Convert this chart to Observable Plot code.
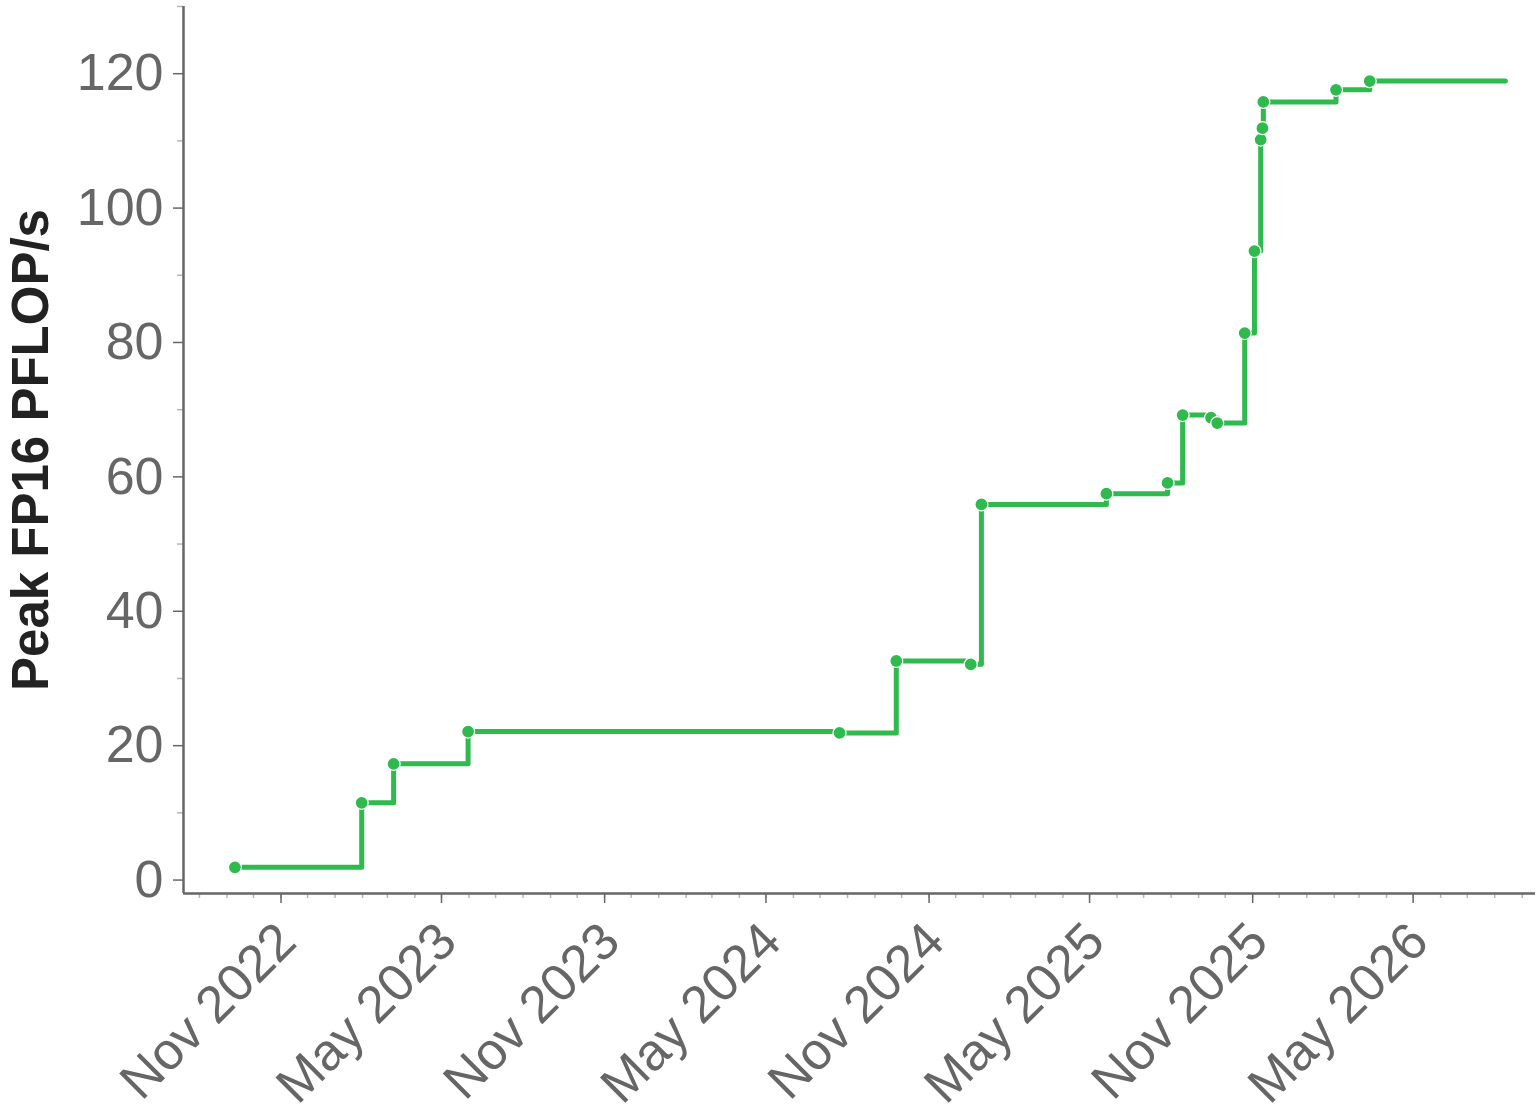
<!DOCTYPE html>
<html>
<head>
<meta charset="utf-8">
<script src="https://cdn.jsdelivr.net/npm/d3@7"></script>
<script src="https://cdn.jsdelivr.net/npm/@observablehq/plot@0.6"></script>
<style>
  html, body { margin: 0; padding: 0; background: #fff; }
  #chart { width: 1540px; height: 1120px; }
</style>
</head>
<body>
<div id="chart"></div>
<script>
// ---- data ----
const releaseDates = [
  "2022-09-10", "2023-01-31", "2023-03-08", "2023-05-31", "2024-07-23",
  "2024-09-25", "2024-12-18", "2024-12-30", "2025-05-20", "2025-07-28",
  "2025-08-14", "2025-09-15", "2025-09-22", "2025-10-23", "2025-11-03",
  "2025-11-10", "2025-11-12", "2025-11-13", "2026-02-03", "2026-03-13"
];
const peakPflops = [
  1.9, 11.5, 17.3, 22.1, 21.9,
  32.6, 32.1, 55.9, 57.5, 59.1,
  69.2, 68.8, 68.0, 81.4, 93.6,
  110.2, 111.9, 115.8, 117.6, 118.9
];
const lineEndDate = "2026-08-13";

const xDomain = ["2022-07-14", "2026-09-16"];
const yDomain = [-2, 130];
const xTickDates = ["2022-11-01", "2023-05-01", "2023-11-01", "2024-05-01",
                    "2024-11-01", "2025-05-01", "2025-11-01", "2026-05-01"];
const yTicks = [0, 20, 40, 60, 80, 100, 120];
const yMinorTicks = [10, 30, 50, 70, 90, 110, 130];
const yLabel = "Peak FP16 PFLOP/s";

// ---- build ----
const points = releaseDates.map((d, i) => ({date: new Date(d), value: peakPflops[i]}));
const linePoints = points.concat([{date: new Date(lineEndDate), value: peakPflops[peakPflops.length - 1]}]);
const x0 = new Date(xDomain[0]), x1 = new Date(xDomain[1]);
const xMinor = d3.utcMonth.range(x0, x1).filter(d => d >= x0);
const xMajor = xTickDates.map(d => new Date(d));

const green = "#2fba4d";
const axisGray = "#666666";
const minorGray = "#b5b5b5";
const font = "'Liberation Sans', Arial, Helvetica, sans-serif";

const chart = Plot.plot({
  width: 1540,
  height: 1120,
  marginLeft: 183,
  marginRight: 5,
  marginTop: 6,
  marginBottom: 227,
  style: {fontFamily: font, background: "#fff", overflow: "visible"},
  x: {type: "utc", domain: [x0, x1]},
  y: {domain: yDomain},
  marks: [
    Plot.axisX(xMinor, {tickSize: 5, text: null, stroke: minorGray, strokeWidth: 1.5, label: null}),
    Plot.axisX(xMajor, {tickSize: 10, text: null, stroke: axisGray, strokeWidth: 1.5, label: null}),
    Plot.axisX(xMajor, {tickSize: 0, tickPadding: 39, dx: 6, tickRotate: -45, tickFormat: d3.utcFormat("%b %Y"),
                        fontSize: 52, fill: axisGray, label: null}),
    Plot.axisY(yMinorTicks, {tickSize: 6, text: null, stroke: minorGray, strokeWidth: 1.5, label: null}),
    Plot.axisY(yTicks, {tickSize: 10, tickPadding: 10, fontSize: 52, stroke: axisGray, fill: axisGray,
                        strokeWidth: 1.5, label: null}),
    Plot.ruleX([x0], {stroke: axisGray, strokeWidth: 2.5}),
    Plot.ruleY([yDomain[0]], {stroke: axisGray, strokeWidth: 2.5}),
    Plot.line(linePoints, {x: "date", y: "value", curve: "step-after", stroke: green, strokeWidth: 5}),
    Plot.dot(points, {x: "date", y: "value", r: 6.5, fill: green, stroke: "white", strokeWidth: 1.25}),
    Plot.text([yLabel], {frameAnchor: "left", dx: -136, rotate: -90, textAnchor: "middle", lineAnchor: "bottom",
                         fontSize: 51, fontWeight: "bold", fill: "#222"})
  ]
});
document.getElementById("chart").appendChild(chart);
</script>
</body>
</html>
